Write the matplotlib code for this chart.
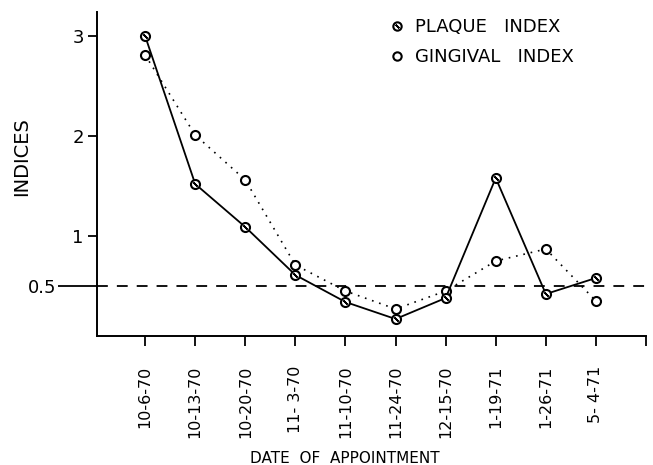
import numpy as np
import matplotlib.pyplot as plt
from matplotlib.lines import Line2D
from matplotlib.legend_handler import HandlerTuple

# appointment dates and index values
dates = ['10-6-70', '10-13-70', '10-20-70', '11- 3-70', '11-10-70',
         '11-24-70', '12-15-70', '1-19-71', '1-26-71', '5- 4-71']
plaque = [3.00, 1.52, 1.09, 0.61, 0.34, 0.17, 0.38, 1.58, 0.42, 0.58]
gingival = [2.81, 2.01, 1.56, 0.71, 0.45, 0.27, 0.45, 0.75, 0.87, 0.35]
ref_level = 0.5

plt.rcParams['font.family'] = ['DejaVu Sans']

fig = plt.figure(figsize=(6.53, 4.65), dpi=100)
ax = fig.add_axes([0.1486, 0.2774, 0.8407, 0.6968])

x = np.arange(len(dates))

# gingival index: open circles, dotted line
ax.plot(x, gingival, color='black', lw=1.2, ls=(0, (1, 3.5)),
        marker='o', ms=6.5, mfc='white', mec='black', mew=1.5, zorder=3)
# plaque index: solid line, circle with a slash
ax.plot(x, plaque, color='black', lw=1.3, ls='-',
        marker='o', ms=6.5, mfc='white', mec='black', mew=1.5, zorder=4)
ax.plot(x, plaque, ls='none', marker=(2, 2, 45), ms=4, mec='black',
        mew=1.2, zorder=5)

ax.axhline(ref_level, color='black', lw=1.3, ls=(0, (6, 5)), zorder=2,
           clip_on=False)

ax.set_xlim(-0.96, 10.0)
ax.set_ylim(0, 3.24)

for s in ['top', 'right']:
    ax.spines[s].set_visible(False)
for s in ['left', 'bottom']:
    ax.spines[s].set_linewidth(1.4)

ax.set_xticks(list(x) + [len(dates)])
ax.set_xticklabels(dates + [''], rotation=90, fontsize=11.5)
ax.tick_params(axis='x', direction='out', length=7, width=1.3, pad=14.5)

ax.set_yticks([1, 2, 3])
ax.set_yticklabels(['1', '2', '3'], fontsize=13)
ax.set_yticks([ref_level], minor=True)
ax.set_yticklabels(['0.5'], minor=True, fontsize=13)
ax.tick_params(axis='y', which='major', direction='out', length=6.5,
               width=1.3, pad=3)
ax.tick_params(axis='y', which='minor', direction='out', length=28,
               width=1.3, pad=1)

ax.set_xlabel('DATE  OF  APPOINTMENT', fontsize=11)
ax.xaxis.set_label_coords(0.452, -0.355)
ax.set_ylabel('INDICES', fontsize=14)
ax.yaxis.set_label_coords(-0.12, 0.555)

circ = Line2D([], [], ls='none', marker='o', ms=6, mfc='white', mec='black', mew=1.5)
slash = Line2D([], [], ls='none', marker=(2, 2, 45), ms=3.5, mec='black', mew=1.2)
circ2 = Line2D([], [], ls='none', marker='o', ms=6, mfc='white', mec='black', mew=1.5)
fig.legend([(circ, slash), circ2], ['PLAQUE   INDEX', 'GINGIVAL   INDEX'],
           handler_map={tuple: HandlerTuple(ndivide=1, pad=0)},
           loc='upper left', bbox_to_anchor=(0.578, 0.988), frameon=False,
           fontsize=13, handlelength=0.8, handletextpad=0.6, labelspacing=0.68,
           borderpad=0.2)

fig.savefig('out.png', dpi=100)
